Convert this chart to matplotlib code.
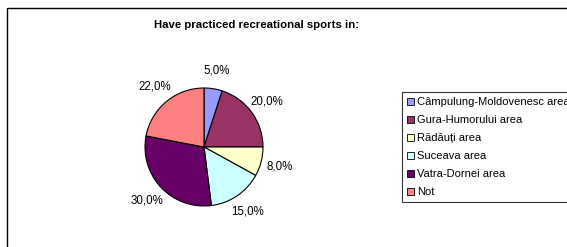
import matplotlib
matplotlib.use("Agg")
import matplotlib.pyplot as plt
from matplotlib.patches import Patch, Rectangle

plt.rcParams['font.family'] = ['Liberation Sans', 'DejaVu Sans']

# data
labels = ['Câmpulung-Moldovenesc area', 'Gura-Humorului area', 'Rădăuți area',
          'Suceava area', 'Vatra-Dornei area', 'Not']
valori = [5.0, 20.0, 8.0, 15.0, 30.0, 22.0]
culori = ['#9999FF', '#993366', '#FFFFCC', '#CCFFFF', '#660066', '#FF8080']
titlu = 'Have practiced recreational sports in:'

W, H = 567, 247
fig = plt.figure(figsize=(W / 100, H / 100), dpi=100)

# chenarul graficului
fig.patches.append(Rectangle((7 / W, -0.1), 1.0, 1 - 8 / H + 0.1, transform=fig.transFigure,
                             fill=False, edgecolor='black', linewidth=1.0))

fig.text(257 / W, 1 - 25 / H, titlu, ha='center', va='center', fontsize=8.2, fontweight='bold')

cx, cy, r = 204, 147, 59
ax = fig.add_axes([(cx - r) / W, (H - cy - r) / H, 2 * r / W, 2 * r / H])
wedges, texte = ax.pie(valori, colors=culori, startangle=90, counterclock=False,
                       labels=['%.1f%%' % v for v in valori], labeldistance=1.32,
                       wedgeprops=dict(edgecolor='black', linewidth=0.8),
                       textprops=dict(fontsize=8.3))
for t in texte:
    t.set_text(t.get_text().replace('.', ','))
    t.set_ha('center')
ax.set_xlim(-1, 1)
ax.set_ylim(-1, 1)
ax.set_aspect('auto')

handles = [Patch(facecolor=c, edgecolor='black', linewidth=0.6) for c in culori]
leg = fig.legend(handles, labels, loc='upper left', bbox_to_anchor=(402 / W, 1 - 92 / H),
                 fontsize=8, frameon=True, fancybox=False, handlelength=0.6, handleheight=0.6,
                 handletextpad=0.3, labelspacing=0.72, borderpad=0.45, borderaxespad=0)
leg.get_frame().set_edgecolor('black')
leg.get_frame().set_linewidth(0.8)

fig.savefig('out.png', dpi=100)
